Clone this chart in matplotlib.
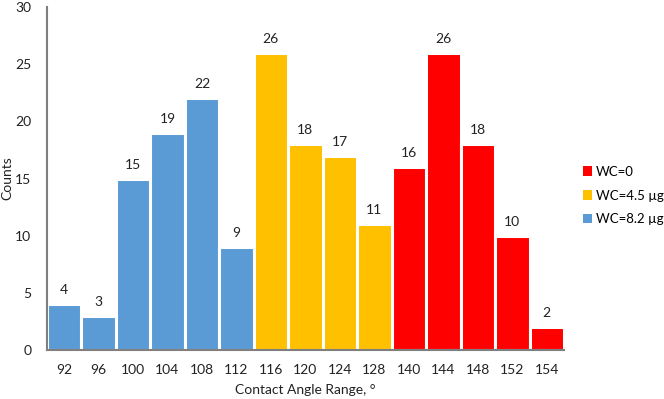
import matplotlib
matplotlib.use("Agg")
import matplotlib.pyplot as plt
from matplotlib.patches import Patch

plt.rcParams['font.family'] = ['Lato', 'DejaVu Sans']

categories = ["92", "96", "100", "104", "108", "112", "116", "120", "124", "128",
              "140", "144", "148", "152", "154"]
counts = [4, 3, 15, 19, 22, 9, 26, 18, 17, 11, 16, 26, 18, 10, 2]
groups = ["WC=8.2 µg"] * 6 + ["WC=4.5 µg"] * 4 + ["WC=0"] * 5
group_colors = {"WC=0": "#FF0000", "WC=4.5 µg": "#FFC000", "WC=8.2 µg": "#5B9BD5"}
legend_order = ["WC=0", "WC=4.5 µg", "WC=8.2 µg"]

fig = plt.figure(figsize=(6.64, 3.99), dpi=100)
ax = fig.add_axes([0.0704, 0.1228, 0.779, 0.8596])

x = list(range(len(categories)))
colors = [group_colors[g] for g in groups]
bars = ax.bar(x, counts, width=1.0, color=colors, edgecolor="white", linewidth=2.2)

for xi, v in zip(x, counts):
    ax.text(xi, v + 0.7, str(v), ha="center", va="bottom", fontsize=10, color="#222222")

ax.set_xlim(-0.5, len(categories) - 0.5)
ax.set_ylim(0, 30)
ax.set_yticks([0, 5, 10, 15, 20, 25, 30])
ax.set_xticks(x)
ax.set_xticklabels(categories)
ax.tick_params(axis="both", length=0, labelsize=10, colors="#222222")
ax.tick_params(axis="y", pad=11)
ax.tick_params(axis="x", pad=10)

for s in ["top", "right"]:
    ax.spines[s].set_visible(False)
for s in ["left", "bottom"]:
    ax.spines[s].set_color("#7f7f7f")
    ax.spines[s].set_linewidth(1.5)

ax.set_ylabel("Counts", fontsize=10, color="#222222")
ax.yaxis.set_label_coords(-0.064, 0.5)
ax.set_xlabel("Contact Angle Range, °", fontsize=10, color="#222222", labelpad=6)

handles = [Patch(facecolor=group_colors[g], edgecolor="none", label=g) for g in legend_order]
fig.legend(handles=handles, loc="center left", bbox_to_anchor=(0.878, 0.51),
           frameon=False, fontsize=9.5, handlelength=0.7, handleheight=0.7,
           handletextpad=0.3, labelspacing=0.9, borderaxespad=0, borderpad=0)

fig.savefig("out.png", dpi=100)
